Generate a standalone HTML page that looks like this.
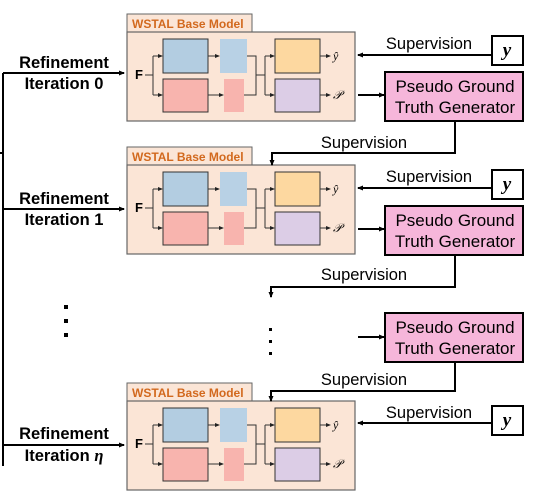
<!DOCTYPE html>
<html><head><meta charset="utf-8"><style>
html,body{margin:0;padding:0;background:#fff;}
svg{display:block;font-family:"Liberation Sans",sans-serif;}
</style></head><body>
<svg width="556" height="502" viewBox="0 0 556 502" xmlns="http://www.w3.org/2000/svg">
<defs>
<marker id="a" markerWidth="6" markerHeight="6" refX="5" refY="3" orient="auto" markerUnits="userSpaceOnUse"><path d="M0,0.5 L6,3 L0,5.5 z" fill="#000"/></marker>
<marker id="s" markerWidth="5" markerHeight="5" refX="4" refY="2.5" orient="auto" markerUnits="userSpaceOnUse"><path d="M0,0.5 L5,2.5 L0,4.5 z" fill="#222"/></marker>
<g id="blk">
  <rect x="127" y="-18" width="125" height="18" fill="#fbe5d6" stroke="#666" stroke-width="1"/>
  <text x="132" y="-4" font-size="12" font-weight="bold" fill="#d2691e">WSTAL Base Model</text>
  <rect x="127" y="0" width="228" height="89" fill="#fbe5d6" stroke="#666" stroke-width="1.2"/>
  <text x="135" y="47" font-size="13" font-weight="bold">F</text>
  <g stroke="#333" stroke-width="1" fill="none">
    <path d="M145,43 H153 M153,24 V63"/>
    <path d="M153,24 H162" marker-end="url(#s)"/>
    <path d="M153,63 H162" marker-end="url(#s)"/>
    <path d="M208,24 H219" marker-end="url(#s)"/>
    <path d="M208,63 H223" marker-end="url(#s)"/>
    <path d="M247,24 H256 V63 H244"/>
    <path d="M256,43 H265 M265,24 V63"/>
    <path d="M265,24 H274" marker-end="url(#s)"/>
    <path d="M265,63 H274" marker-end="url(#s)"/>
    <path d="M320,24 H330" marker-end="url(#s)"/>
    <path d="M320,63 H330" marker-end="url(#s)"/>
  </g>
  <rect x="163" y="7" width="45" height="34" fill="#b3cde1" stroke="#333" stroke-width="1"/>
  <rect x="220" y="7" width="27" height="34" fill="#b8d1e5"/>
  <rect x="163" y="47" width="45" height="33" fill="#f8b4ae" stroke="#333" stroke-width="1"/>
  <rect x="224" y="47" width="20" height="33" fill="#f8b4ae"/>
  <rect x="275" y="7" width="45" height="34" fill="#fdd8a0" stroke="#333" stroke-width="1"/>
  <rect x="275" y="47" width="45" height="33" fill="#dccde6" stroke="#333" stroke-width="1"/>
  <text x="333" y="28" font-size="12" font-style="italic" font-family="Liberation Serif,serif">ŷ</text>
  <text x="333" y="67" font-size="12" font-style="italic" font-family="Liberation Serif,serif">𝒫</text>
</g>
</defs>

<g stroke="#000" stroke-width="2" fill="none">
  <path d="M3,73 V466"/><path d="M0,153 H3"/>
  <path d="M3,73 H124" marker-end="url(#a)"/>
  <path d="M3,209 H124" marker-end="url(#a)"/>
  <path d="M3,445 H124" marker-end="url(#a)"/>
</g>
<g font-size="16.5" font-weight="bold" text-anchor="middle">
  <text x="64" y="68">Refinement</text><text x="64" y="89">Iteration 0</text>
  <text x="64" y="204">Refinement</text><text x="64" y="225">Iteration 1</text>
  <text x="64" y="439">Refinement</text><text x="64" y="461">Iteration <tspan font-family="Liberation Serif,serif" font-style="italic">η</tspan></text>
</g>
<g fill="#000">
  <rect x="64" y="305" width="4" height="4"/><rect x="64" y="319" width="4" height="4"/><rect x="64" y="333" width="4" height="4"/>
  <rect x="269" y="328" width="3" height="3"/><rect x="269" y="340" width="3" height="3"/><rect x="269" y="352" width="3" height="3"/>
</g>

<use href="#blk" y="32"/>
<use href="#blk" y="165"/>
<use href="#blk" y="401"/>

<g stroke="#000" stroke-width="2" fill="none">
  <path d="M492,55 H358" marker-end="url(#a)"/>
  <path d="M492,188 H358" marker-end="url(#a)"/>
  <path d="M492,423 H358" marker-end="url(#a)"/>
  <path d="M358,95 H384" marker-end="url(#a)"/>
  <path d="M358,229 H384" marker-end="url(#a)"/>
  <path d="M358,337 H384" marker-end="url(#a)"/>
  <path d="M455,121 V153 H272 V165" marker-end="url(#a)"/>
  <path d="M455,255 V287 H271 V297" marker-end="url(#a)"/>
  <path d="M455,362 V391 H271 V401" marker-end="url(#a)"/>
</g>
<g fill="#fff" stroke="#000" stroke-width="2">
  <rect x="492" y="36" width="31" height="29"/>
  <rect x="492" y="170" width="31" height="29"/>
  <rect x="492" y="406" width="31" height="29"/>
</g>
<g font-family="Liberation Serif,serif" font-style="italic" font-weight="bold" font-size="19" text-anchor="middle">
  <text x="507" y="56">y</text><text x="507" y="190">y</text><text x="507" y="426">y</text>
</g>
<g fill="#f6b6da" stroke="#000" stroke-width="2">
  <rect x="385" y="72" width="138" height="49"/>
  <rect x="385" y="206" width="138" height="49"/>
  <rect x="385" y="313" width="138" height="49"/>
</g>
<g font-size="17" text-anchor="middle">
  <text x="455" y="92">Pseudo Ground</text><text x="455" y="113">Truth Generator</text>
  <text x="455" y="226">Pseudo Ground</text><text x="455" y="247">Truth Generator</text>
  <text x="455" y="333">Pseudo Ground</text><text x="455" y="354">Truth Generator</text>
</g>
<g font-size="16.5" text-anchor="middle">
  <text x="429" y="49">Supervision</text>
  <text x="364" y="148">Supervision</text>
  <text x="429" y="182">Supervision</text>
  <text x="364" y="280">Supervision</text>
  <text x="364" y="385">Supervision</text>
  <text x="429" y="418">Supervision</text>
</g>
</svg>
</body></html>
